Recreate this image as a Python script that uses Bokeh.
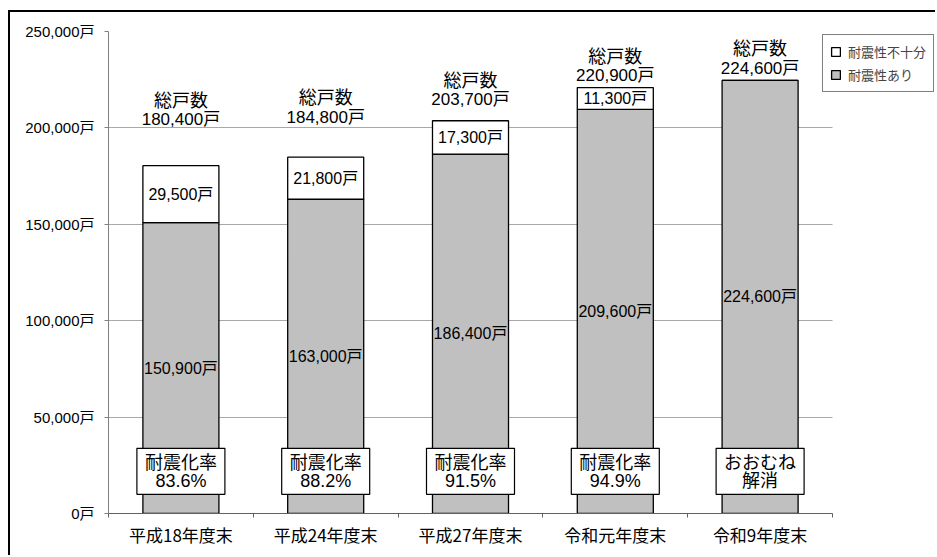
from bokeh.plotting import figure
from bokeh.models import ColumnDataSource, FixedTicker, Legend, LegendItem, Grid
from bokeh.core.properties import value
from bokeh.embed import file_html
from bokeh.resources import INLINE

# ---- data ----
categories = ["平成18年度末", "平成24年度末", "平成27年度末", "令和元年度末", "令和9年度末"]
resistant = [150900, 163000, 186400, 209600, 224600]        # 耐震性あり
insufficient = [29500, 21800, 17300, 11300, 0]              # 耐震性不十分
totals = [180400, 184800, 203700, 220900, 224600]           # 総戸数
rate_line1 = ["耐震化率", "耐震化率", "耐震化率", "耐震化率", "おおむね"]
rate_line2 = ["83.6%", "88.2%", "91.5%", "94.9%", "解消"]
y_ticks = [0, 50000, 100000, 150000, 200000, 250000]
y_tick_labels = ["0戸", "50,000戸", "100,000戸", "150,000戸", "200,000戸", "250,000戸"]
series_names = ["耐震性不十分", "耐震性あり"]

# ---- layout constants ----
label_lift_px = [46, 40, 21, 12, 12]
FONT = "Liberation Sans, Noto Sans CJK JP"
JFONT = "Noto Sans CJK JP"

n = len(categories)
xs = [i + 0.5 for i in range(n)]
tops = [r + s for r, s in zip(resistant, insufficient)]

src = ColumnDataSource(dict(
    x=xs, resistant=resistant, tops=tops,
    res_lbl=[f"{v:,}戸" for v in resistant],
    res_mid=[v / 2 for v in resistant],
))

# frame spans to the window edge so the legend is not clipped; the category
# area covers the first 724 px of the 829 px frame
x_max = n * 829 / 724

p = figure(width=927, height=545, x_range=(0, x_max), y_range=(0, 250000),
           output_backend="svg", toolbar_location=None,
           min_border_left=98, min_border_right=0, min_border_top=19, min_border_bottom=44)
p.styles = {"margin-left": "8px", "margin-top": "10px",
            "border-left": "2px solid black", "border-top": "2px solid black"}
p.outline_line_color = None
p.background_fill_color = "white"
p.border_fill_color = "white"

p.xgrid.grid_line_color = None
use_cross = "cross_bounds" in Grid.properties()
if use_cross:
    p.ygrid.cross_bounds = (0, n)
    p.ygrid.grid_line_color = "#a8a8a8"
    p.ygrid.grid_line_width = 1
else:
    p.ygrid.grid_line_color = None
    gy = y_ticks[1:]
    p.segment(x0=[0] * len(gy), x1=[n] * len(gy), y0=gy, y1=gy,
              line_color="#a8a8a8", line_width=1, level="underlay")

# y axis
p.yaxis.ticker = FixedTicker(ticks=y_ticks)
p.yaxis.major_label_overrides = {t: l for t, l in zip(y_ticks, y_tick_labels)}
p.yaxis.major_label_text_font = FONT
p.yaxis.major_label_text_font_size = "15px"
p.yaxis.major_label_text_color = "black"
p.yaxis.major_tick_out = 4
p.yaxis.major_tick_in = 0
p.yaxis.minor_tick_line_color = None
p.yaxis.major_label_standoff = 10
p.yaxis.axis_line_color = "#808080"
p.yaxis.major_tick_line_color = "#808080"

# x axis: labels at centers, ticks at boundaries
p.xaxis.bounds = (0, n)
p.xaxis.ticker = FixedTicker(ticks=xs, minor_ticks=list(range(n + 1)))
p.xaxis.major_label_overrides = {x: c for x, c in zip(xs, categories)}
p.xaxis.major_label_text_font = JFONT
p.xaxis.major_label_text_font_size = "17px"
p.xaxis.major_label_text_color = "black"
p.xaxis.major_tick_out = 0
p.xaxis.major_tick_in = 0
p.xaxis.minor_tick_out = 4
p.xaxis.minor_tick_in = 0
p.xaxis.minor_tick_line_color = "#606060"
p.xaxis.axis_line_color = "#606060"
p.xaxis.major_label_standoff = 4

bw = 0.525
r_res = p.vbar(x="x", top="resistant", bottom=0, width=bw, source=src,
               fill_color="#c0c0c0", line_color="black", line_width=1.3)
r_ins = p.vbar(x="x", top="tops", bottom="resistant", width=bw, source=src,
               fill_color="white", line_color="black", line_width=1.3)

# labels in gray segments
p.text(x="x", y="res_mid", text="res_lbl", source=src, text_align="center",
       text_baseline="middle", text_font=value(FONT), text_font_size="16px", text_color="black")

# labels in white segments
ins_idx = [i for i in range(n) if insufficient[i] > 0]
ins_src = ColumnDataSource(dict(
    x=[xs[i] for i in ins_idx],
    y=[resistant[i] + insufficient[i] / 2 for i in ins_idx],
    t=[f"{insufficient[i]:,}戸" for i in ins_idx],
))
p.text(x="x", y="y", text="t", source=ins_src, text_align="center",
       text_baseline="middle", text_font=value(FONT), text_font_size="16px", text_color="black")

# total labels above bars
tot_src = ColumnDataSource(dict(
    x=xs, y=totals,
    num=[f"{v:,}戸" for v in totals],
    off1=[-l for l in label_lift_px],
    off2=[-l - 21 for l in label_lift_px],
    head=["総戸数"] * n,
))
p.text(x="x", y="y", text="num", y_offset="off1", source=tot_src, text_align="center",
       text_baseline="middle", text_font=value(FONT), text_font_size="17px", text_color="black")
p.text(x="x", y="y", text="head", y_offset="off2", source=tot_src, text_align="center",
       text_baseline="middle", text_font=value(JFONT), text_font_size="18px", text_color="black")

# rate boxes
rate_src = ColumnDataSource(dict(x=xs, y=[21900] * n, l1=rate_line1, l2=rate_line2))
p.rect(x="x", y="y", width=88, height=46, width_units="screen", height_units="screen",
       source=rate_src, fill_color="white", line_color="black", line_width=1.2)
p.text(x="x", y="y", text="l1", y_offset=-10, source=rate_src, text_align="center",
       text_baseline="middle", text_font=value(JFONT), text_font_size="18px", text_color="black")
p.text(x="x", y="y", text="l2", y_offset=10, source=rate_src, text_align="center",
       text_baseline="middle", text_font=value(FONT), text_font_size="18px", text_color="black")

legend = Legend(items=[LegendItem(label=series_names[0], renderers=[r_ins]),
                       LegendItem(label=series_names[1], renderers=[r_res])],
                location=(714, 421))
legend.label_text_font = JFONT
legend.label_text_font_size = "13px"
legend.label_height = 16
legend.glyph_width = 11
legend.glyph_height = 11
legend.spacing = 4
legend.padding = 7
legend.margin = 0
legend.label_standoff = 7
legend.border_line_color = "black"
legend.border_line_width = 1
legend.background_fill_alpha = 1
p.add_layout(legend, "center")

open("out.html", "w").write(file_html(p, INLINE))
